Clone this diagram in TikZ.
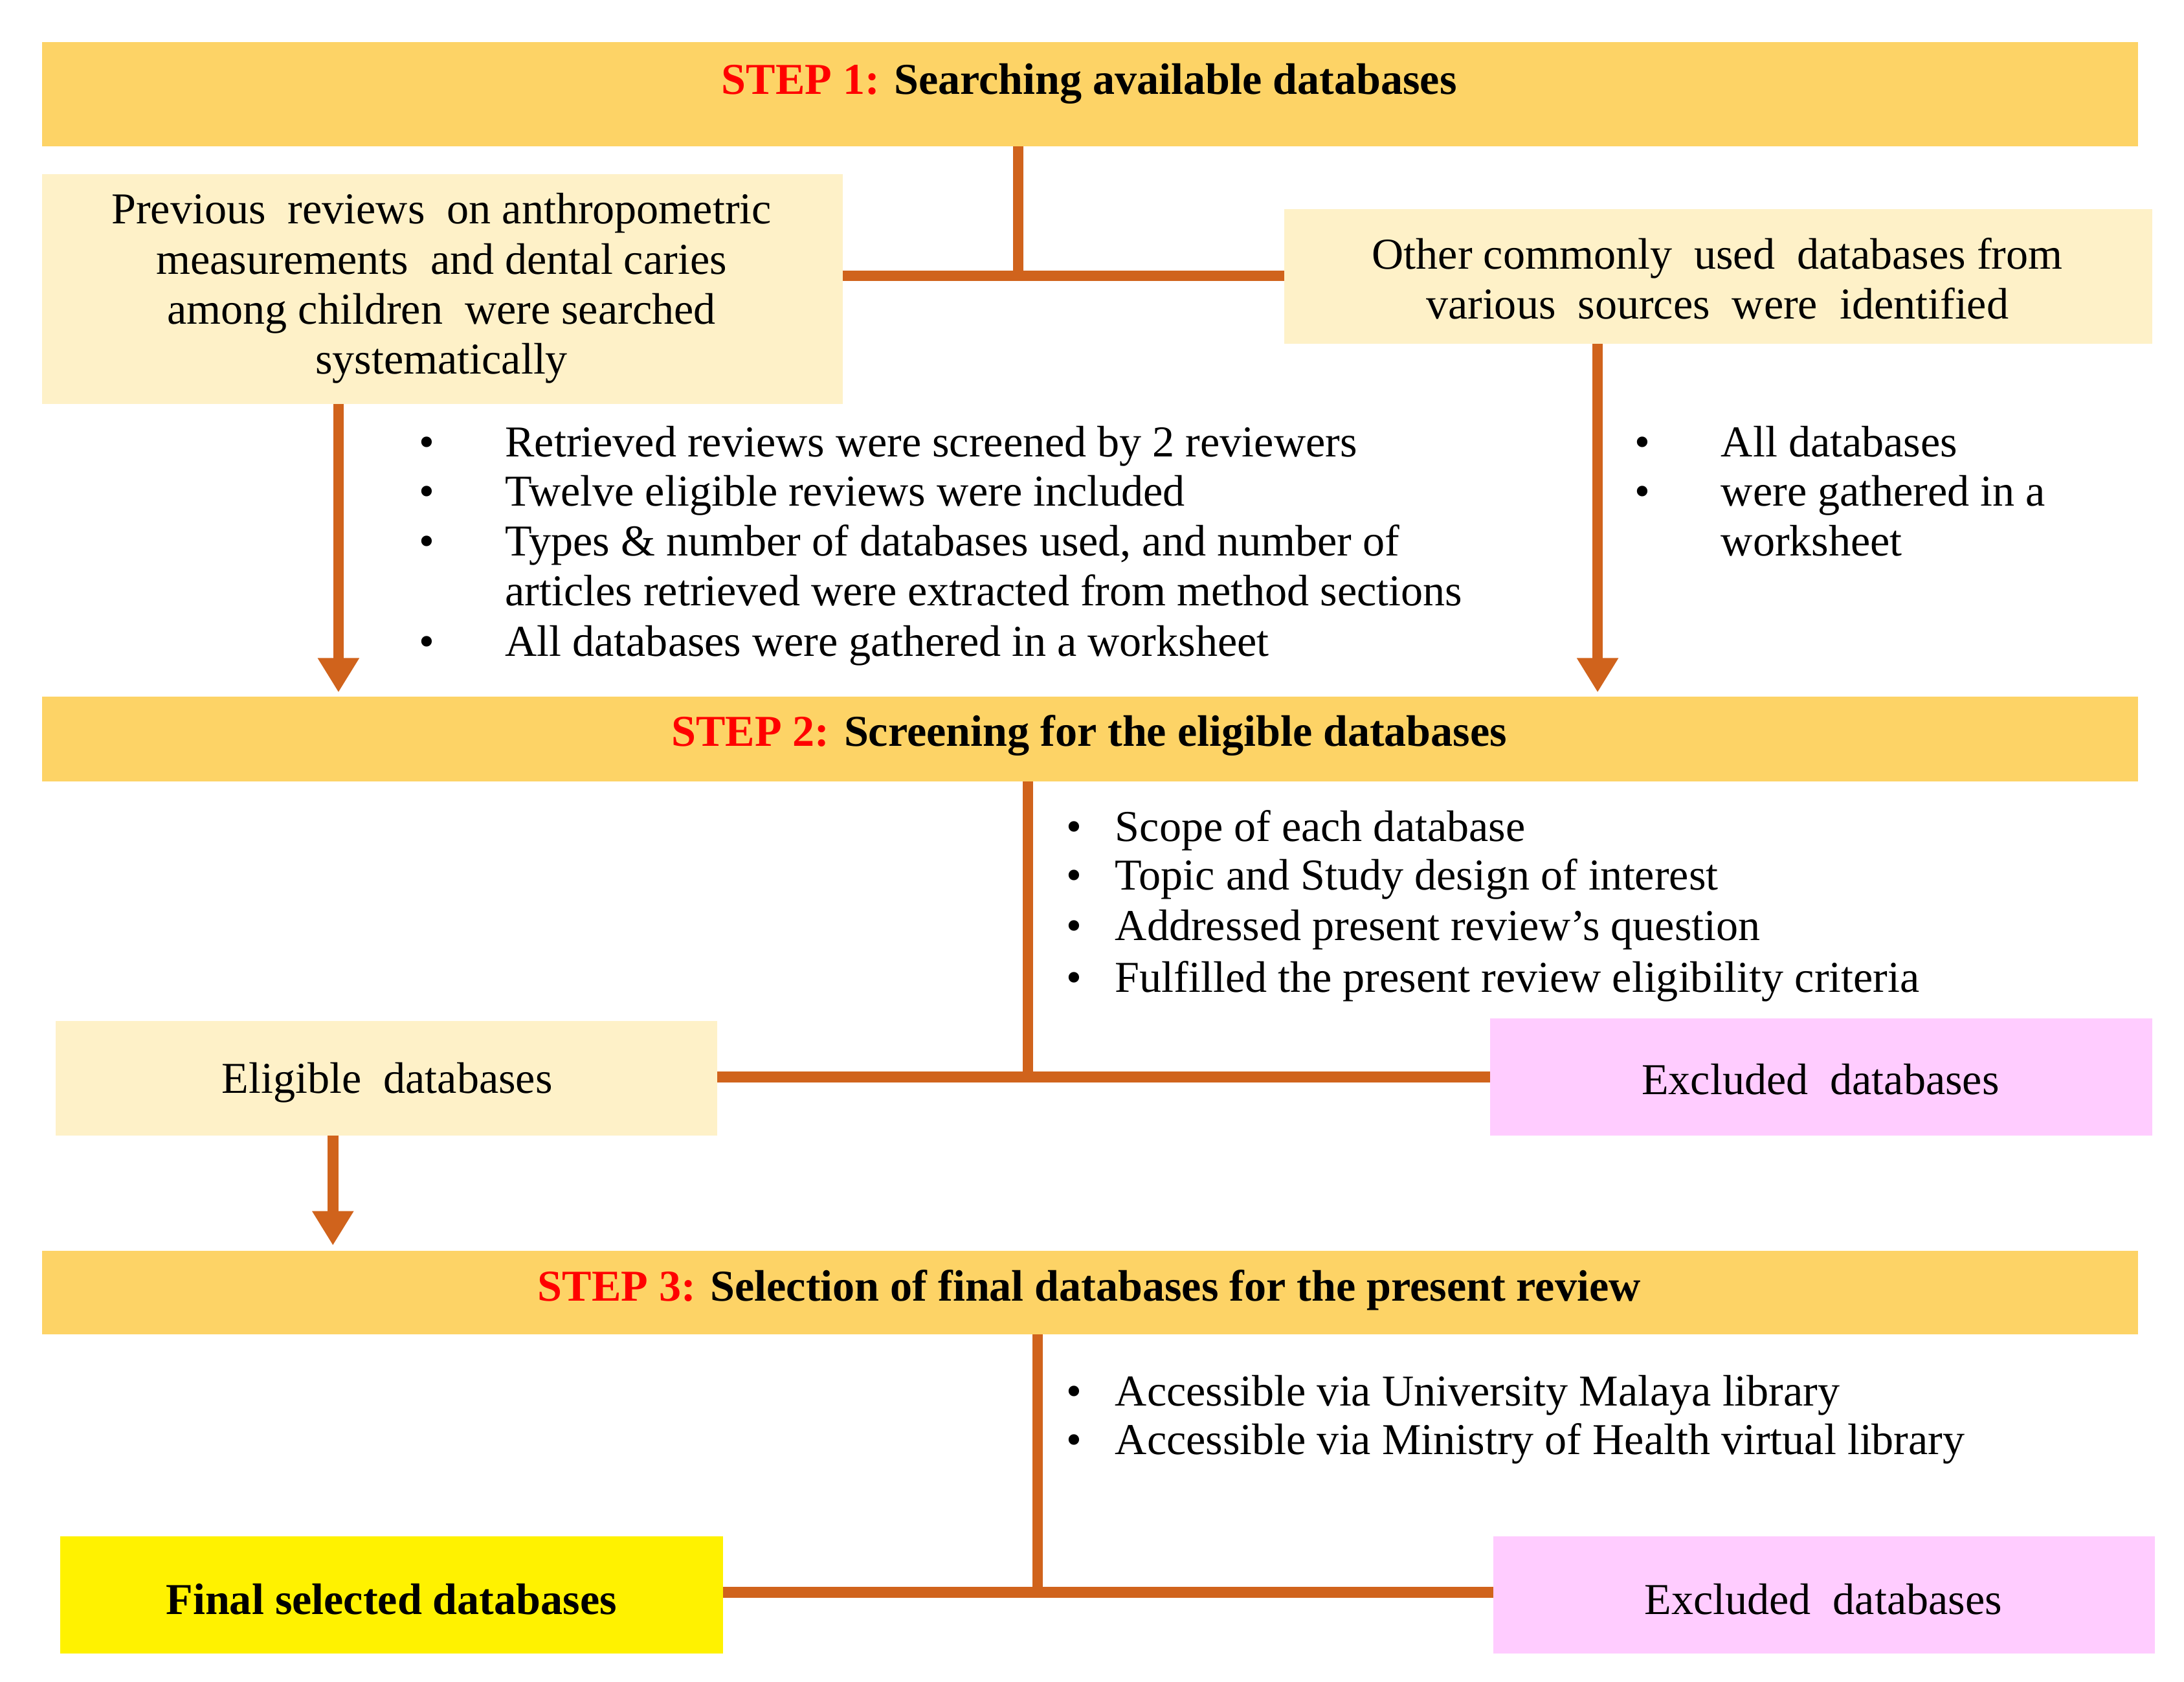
\documentclass[tikz,border=0pt]{standalone}
\usepackage{fontspec}
\setmainfont{Liberation Serif}
\usetikzlibrary{arrows.meta}
\definecolor{gold}{HTML}{FDD366}
\definecolor{cream}{HTML}{FEF1C8}
\definecolor{pinkx}{HTML}{FFCCFF}
\definecolor{conn}{HTML}{D0631C}
\definecolor{stepred}{HTML}{FF0000}
\begin{document}
\begin{tikzpicture}[x=0.01cm,y=-0.01cm,
  every node/.style={font=\fontsize{9}{10.2}\selectfont},
  box/.style={draw=none,inner sep=0,align=center},
  ln/.style={conn,line width=2.2pt},
  ar/.style={ln,-{Triangle[length=7pt,width=8pt]}},
  bl/.style={anchor=base west,inner sep=0}]
\useasboundingbox (0,0) rectangle (1568,1207);
% bars
\fill[gold] (30,30) rectangle (1535,105);
\node[inner sep=0] (s1) at (782,60) {\textcolor{stepred}{\textbf{STEP 1:}} \textbf{Searching available databases}};
\fill[gold] (30,500) rectangle (1535,561);
\node[inner sep=0] (s2) at (782,528) {\textcolor{stepred}{\textbf{STEP 2:}} \textbf{Screening for the eligible databases}};
\fill[gold] (30,898) rectangle (1535,958);
\node[inner sep=0] (s3) at (782,926) {\textcolor{stepred}{\textbf{STEP 3:}} \textbf{Selection of final databases for the present review}};
% boxes
\fill[cream] (30,125) rectangle (605,290);
\node[box] (lb) at (317,207) {Previous\ \ reviews\ \ on anthropometric\\ measurements\ \ and dental caries\\ among children\ \ were searched\\ systematically};
\fill[cream] (922,150) rectangle (1545,247);
\node[box] (rb) at (1233,200) {Other commonly\ \ used\ \ databases from\\ various\ \ sources\ \ were\ \ identified};
\fill[cream] (40,733) rectangle (515,815);
\node[box] (el) at (278,777) {Eligible\ \ databases};
\fill[pinkx] (1070,731) rectangle (1545,815);
\node[box] (ex1) at (1307,775) {Excluded\ \ databases};
\fill[yellow] (43,1103) rectangle (519,1187);
\node[box] (fin) at (281,1148) {\textbf{Final selected databases}};
\fill[pinkx] (1072,1103) rectangle (1547,1187);
\node[box] (ex2) at (1309,1148) {Excluded\ \ databases};
% connectors
\coordinate (j1) at (731,198);
\draw[ln] (731,105) -- (j1);
\draw[ln] (605,198) -- (922,198);
\draw[ar] (243,290) -- (243,497);
\draw[ar] (1147,247) -- (1147,497);
\draw[ln] (738,561) -- (738,773);
\draw[ln] (515,773) -- (1070,773);
\draw[ar] (239,815) -- (239,894);
\draw[ln] (745,958) -- (745,1143);
\draw[ln] (519,1143) -- (1072,1143);
% bullet lists
\foreach \y/\t in {328/Retrieved reviews were screened by 2 reviewers,
  363/Twelve eligible reviews were included,
  399/{Types \& number of databases used, and number of},
  471/All databases were gathered in a worksheet}
  {\node[bl] at (300,\y) {•}; \node[bl] at (362,\y) {\t};}
\node[bl] at (362,435) {articles retrieved were extracted from method sections};
\foreach \y/\t in {328/All databases, 363/were gathered in a}
  {\node[bl] at (1173,\y) {•}; \node[bl] at (1235,\y) {\t};}
\node[bl] at (1235,399) {worksheet};
\foreach \y/\t in {604/Scope of each database, 639/Topic and Study design of interest,
  675/Addressed present review's question, 712/Fulfilled the present review eligibility\ criteria,
  1009/Accessible via University Malaya library, 1044/Accessible via Ministry of Health virtual library}
  {\node[bl] at (765,\y) {•}; \node[bl] at (800,\y) {\t};}
\end{tikzpicture}
\end{document}
